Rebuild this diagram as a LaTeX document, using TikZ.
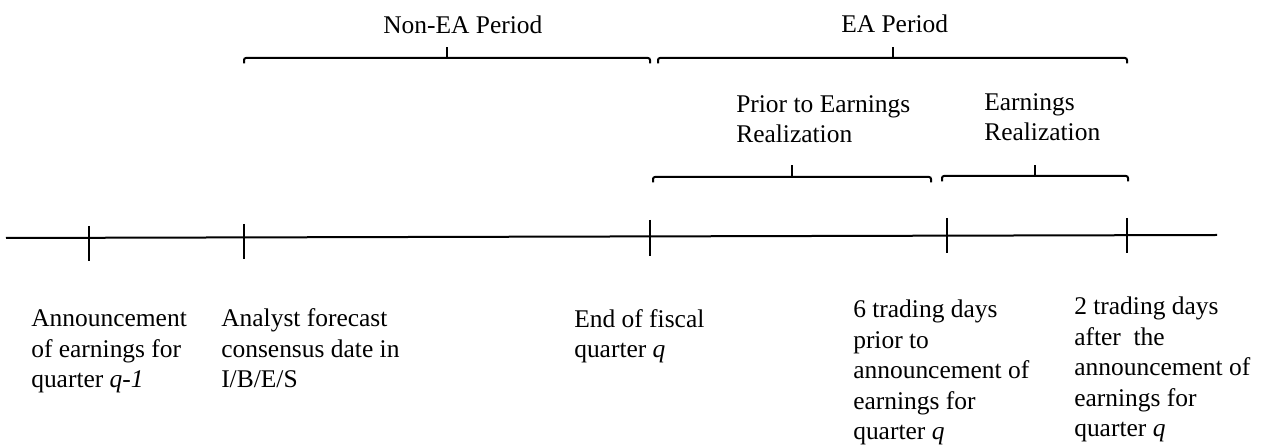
\documentclass[tikz,border=0pt]{standalone}
\usepackage{fontspec}
\setmainfont{Liberation Serif}
\usetikzlibrary{positioning}

\begin{document}
\begin{tikzpicture}[
				x=0.75pt, y=-0.75pt,
				axis/.style={line width=1.5pt},
				brk/.style={line width=1.5pt, rounded corners=1.5pt},
				txt/.style={inner sep=0pt, anchor=base west, align=left, font=\fontsize{19.1pt}{22.9pt}\selectfont},
			]
				\useasboundingbox (0,0) rectangle (1264,448);

				% time line and its dates
				\coordinate (start) at (6,238);
				\coordinate (end) at (1217,235);
				\draw[axis] (start) -- (end);
				\foreach \name/\x/\top/\bot in {prevea/89/226/261, ibes/244/224/259, fqend/650/220/256, pre/947/218/253, post/1127/218/253}
					\draw[axis] (\x,\top) coordinate (\name) -- (\x,\bot);

				% top brackets
				\coordinate (nonea-l) at (244,58);
				\coordinate (nonea-r) at (650,58);
				\coordinate (nonea-m) at (447,58);
				\coordinate (ea-l) at (658,58);
				\coordinate (ea-r) at (1127,58);
				\coordinate (ea-m) at (893,58);
				\draw[brk] ([yshift=-4pt]nonea-l) -- (nonea-l) -- (nonea-r) -- ([yshift=-4pt]nonea-r);
				\draw[brk] ([yshift=-4pt]ea-l) -- (ea-l) -- (ea-r) -- ([yshift=-4pt]ea-r);
				\draw[axis] (nonea-m) -- ++(0,-11);
				\draw[axis] (ea-m) -- ++(0,-11);

				% lower brackets
				\coordinate (prior-l) at (653,177);
				\coordinate (prior-r) at (931,177);
				\coordinate (prior-m) at (792,177);
				\coordinate (real-l) at (942,176);
				\coordinate (real-r) at (1128,176);
				\coordinate (real-m) at (1035,176);
				\draw[brk] ([yshift=-4pt]prior-l) -- (prior-l) -- (prior-r) -- ([yshift=-4pt]prior-r);
				\draw[brk] ([yshift=-4pt]real-l) -- (real-l) -- (real-r) -- ([yshift=-4pt]real-r);
				\draw[axis] (prior-m) -- ++(0,-12);
				\draw[axis] (real-m) -- ++(0,-11);

				% labels (base = last line)
				\node[txt] (nonea) at (383,34) {Non-EA Period};
				\node[txt] (ea) at (841,33) {EA Period};
				\node[txt] (prior) at (736,143) {Prior to Earnings\\Realization};
				\node[txt] (real) at (984,141) {Earnings\\Realization};

				\node[txt] (prevea-txt) at (31,388) {Announcement\\of earnings for\\quarter \textit{q-1}};
				\node[txt] (ibes-txt) at (221,388) {Analyst forecast\\consensus date in\\I/B/E/S};
				\node[txt] (fqend-txt) at (574,358) {End of fiscal\\quarter \textit{q}};
				\node[txt] (pre-txt) at (853,440) {6 trading days\\prior to\\announcement of\\earnings for\\quarter \textit{q}};
				\node[txt] (post-txt) at (1074,437) {2 trading days\\after\ \ the\\announcement of\\earnings for\\quarter \textit{q}};
			\end{tikzpicture}
\end{document}
